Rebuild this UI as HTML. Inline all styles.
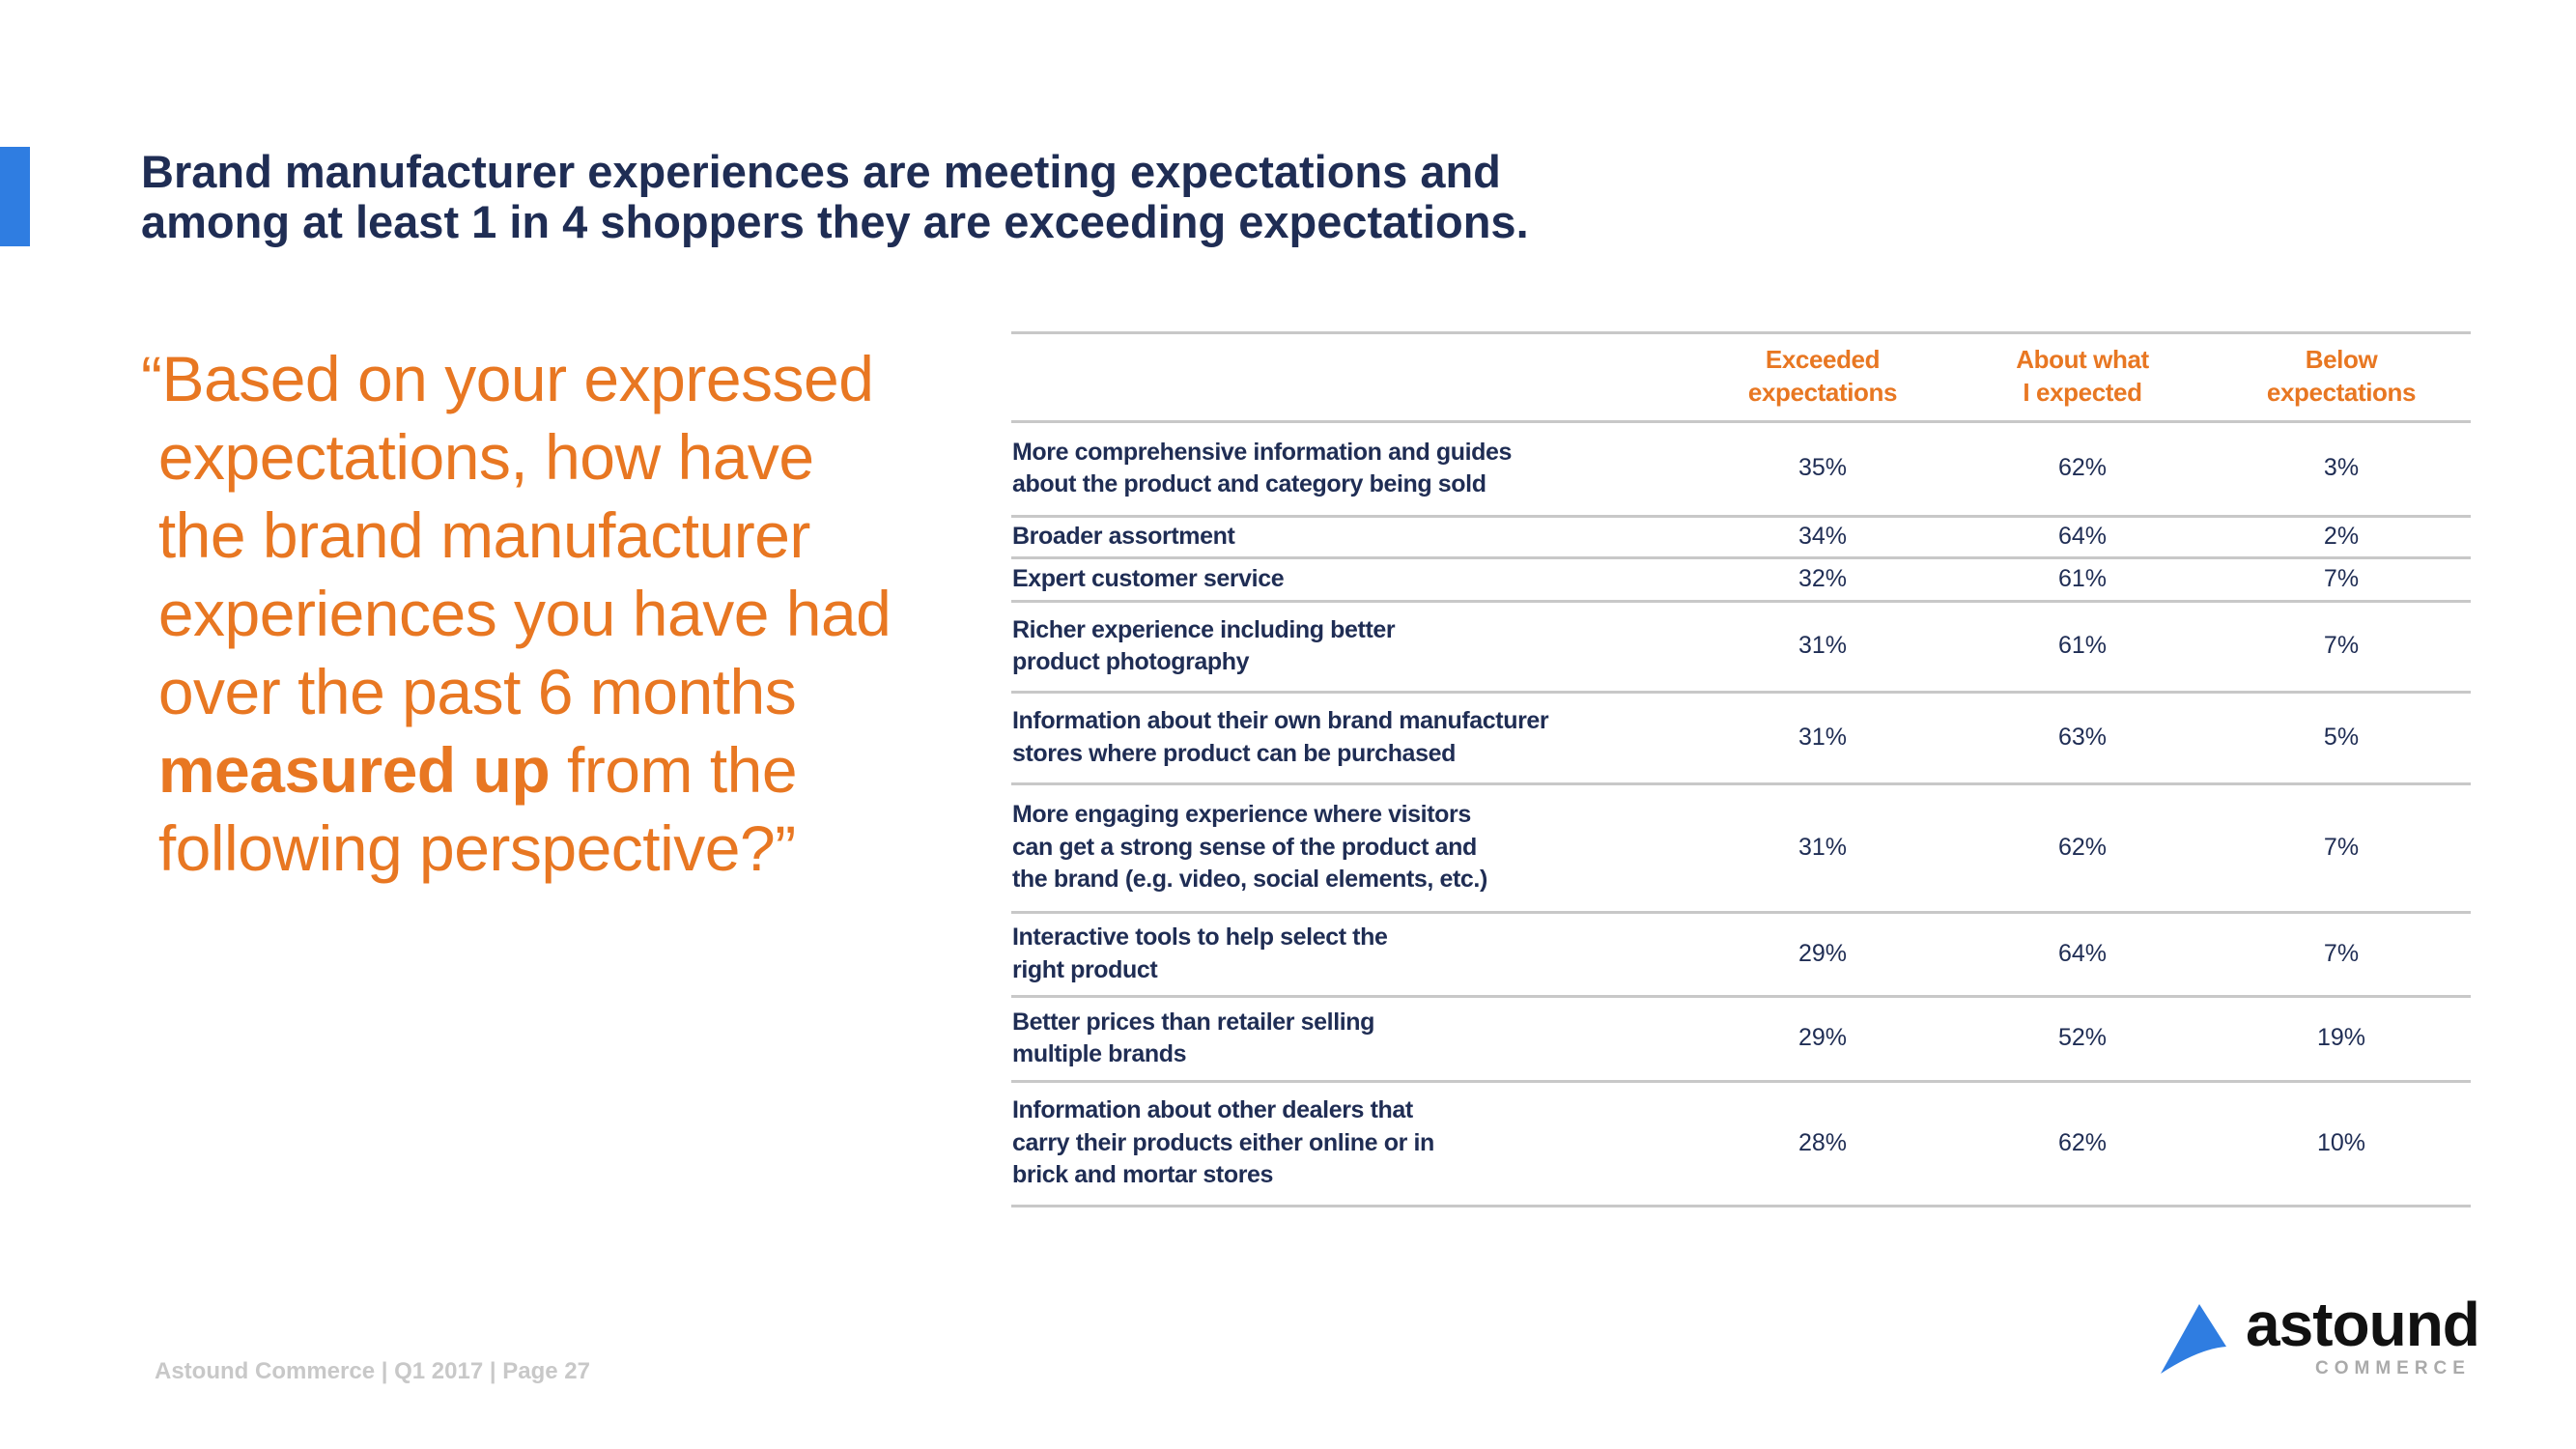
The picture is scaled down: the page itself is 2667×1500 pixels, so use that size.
<!DOCTYPE html>
<html><head><meta charset="utf-8"><style>
body{margin:0;width:2667px;height:1500px;background:#fff;position:relative;overflow:hidden;font-family:"Liberation Sans",sans-serif;}
.abs{position:absolute;}
#title{left:146px;top:152px;font-size:47px;font-weight:bold;color:#1f2d54;line-height:52px;letter-spacing:0px;}
#quote{left:146px;top:352px;font-size:66px;color:#e87722;line-height:81px;font-weight:normal;letter-spacing:-0.5px;}
#quote b{font-weight:bold;}
.hline{position:absolute;left:1047px;width:1511px;height:3px;background:#c8c8c8;}
.hdr{position:absolute;width:260px;text-align:center;color:#e87722;font-weight:bold;font-size:26px;line-height:34px;letter-spacing:-0.4px;}
.lbl{position:absolute;left:1048px;color:#1f2d54;font-weight:bold;font-size:25px;line-height:33.5px;letter-spacing:-0.4px;white-space:nowrap;}
.val{position:absolute;width:200px;text-align:center;color:#1f2d54;font-size:25px;}
#footer{left:160px;top:1406px;font-size:24px;font-weight:bold;color:#c8c8c8;}
</style></head><body>
<div class="abs" style="left:0;top:152px;width:31px;height:103px;background:#2f7de1"></div>
<div id="title" class="abs">Brand manufacturer experiences are meeting expectations and<br>among at least 1 in 4 shoppers they are exceeding expectations.</div>
<div id="quote" class="abs">“Based on your expressed<br>&nbsp;expectations, how have<br>&nbsp;the brand manufacturer<br>&nbsp;experiences you have had<br>&nbsp;over the past 6 months<br>&nbsp;<b>measured up</b> from the<br>&nbsp;following perspective?”</div>
<div id="table"></div>
<div id="footer" class="abs">Astound Commerce | Q1 2017 | Page 27</div>
<div class="abs" style="left:2237px;top:1350px;width:330px;height:80px">
<svg width="70" height="72" style="position:absolute;left:0;top:0"><path d="M40 0 L68 44 Q40 46 0 72 Z" fill="#2f7de1"/></svg>
<div style="position:absolute;left:88px;top:-16px;font-size:64px;font-weight:bold;color:#111;letter-spacing:-1px">astound</div>
<div style="position:absolute;left:160px;top:56px;font-size:19px;font-weight:bold;color:#aaa;letter-spacing:6px">COMMERCE</div>
</div>
<script>
const categories=[["More comprehensive information and guides","about the product and category being sold"],["Broader assortment"],["Expert customer service"],["Richer experience including better","product photography"],["Information about their own brand manufacturer","stores where product can be purchased"],["More engaging experience where visitors","can get a strong sense of the product and","the brand (e.g. video, social elements, etc.)"],["Interactive tools to help select the","right product"],["Better prices than retailer selling","multiple brands"],["Information about other dealers that","carry their products either online or in","brick and mortar stores"]];
const exceeded=[35,34,32,31,31,31,29,29,28];
const aboutExpected=[62,64,61,61,63,62,64,52,62];
const below=[3,2,7,7,5,7,7,19,10];
const headers=[["Exceeded","expectations"],["About what","I expected"],["Below","expectations"]];
const rowBounds=[436,534,577,622,716,811,944,1031,1119,1248];
const colCenters=[1887,2156,2424];
const t=document.getElementById('table');
function line(y,name){const d=document.createElement('div');d.className='hline';d.style.top=(y-1)+'px';


t.appendChild(d);}
line(344,'table-top-rule');
headers.forEach((h,i)=>{const d=document.createElement('div');d.className='hdr';d.style.left=(colCenters[i]-130)+'px';d.style.top='355px';d.innerHTML=h.join('<br>');


t.appendChild(d);});
const series=[exceeded,aboutExpected,below];
rowBounds.forEach((y,i)=>line(y,'row-rule'));
categories.forEach((c,i)=>{const top=rowBounds[i],bot=rowBounds[i+1],mid=(top+bot)/2;
const l=document.createElement('div');l.className='lbl';l.innerHTML=c.join('<br>');l.style.top=(mid-c.length*33.5/2)+'px';


t.appendChild(l);
series.forEach((s,j)=>{const v=document.createElement('div');v.className='val';v.textContent=s[i]+'%';v.style.left=(colCenters[j]-100)+'px';v.style.top=(mid-15)+'px';


t.appendChild(v);});});
</script>
</body></html>
